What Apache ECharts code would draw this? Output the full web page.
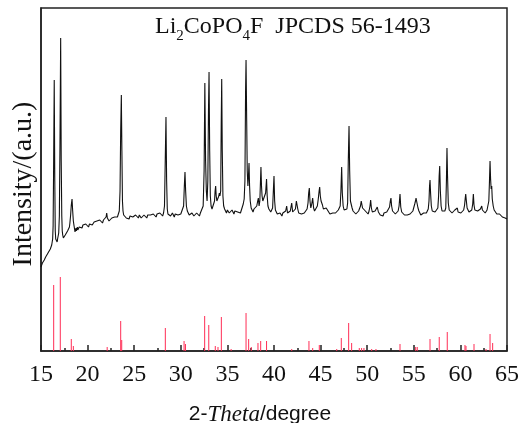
<!DOCTYPE html>
<html>
<head>
<meta charset="utf-8">
<script src="https://cdn.jsdelivr.net/npm/echarts@6/dist/echarts.min.js"></script>
<style>
html,body{margin:0;padding:0;background:#fff;}
#chart{width:521px;height:423px;}
</style>
</head>
<body>
<div id="chart"></div>
<script>
// Measured XRD pattern: [2-theta (deg), intensity (a.u.)]
const experimentalPattern = [
[15.00,84],[15.05,86],[15.10,85],[15.15,88],[15.20,87],[15.25,90],[15.30,89],[15.35,91],[15.40,92],[15.45,91],
[15.50,94],[15.55,93],[15.60,95],[15.65,96],[15.70,95],[15.75,98],[15.80,97],[15.85,99],[15.90,100],[15.95,99],
[16.00,102],[16.05,101],[16.10,104],[16.15,106],[16.20,108],[16.25,112],[16.30,125],[16.35,180],[16.42,271],[16.48,170],
[16.53,120],[16.58,112],[16.63,110],[16.68,111],[16.73,109],[16.78,112],[16.83,114],[16.90,118],[16.97,135],[17.03,200],
[17.11,313],[17.17,190],[17.23,135],[17.28,120],[17.33,116],[17.40,113],[17.45,115],[17.50,112],[17.55,114],[17.60,116],
[17.65,115],[17.70,117],[17.75,116],[17.80,118],[17.85,120],[17.90,119],[17.95,121],[18.00,122],[18.05,124],[18.10,128],
[18.18,136],[18.25,146],[18.33,152],[18.40,140],[18.47,130],[18.55,125],[18.60,122],[18.65,119],[18.70,121],[18.75,123],
[18.80,120],[18.85,122],[18.90,124],[18.95,121],[19.00,123],[19.10,124],[19.20,122],[19.30,125],[19.40,123],[19.50,126],
[19.60,124],[19.70,125],[19.80,127],[19.90,125],[20.00,126],[20.10,124],[20.20,127],[20.30,126],[20.40,128],[20.50,126],
[20.60,127],[20.70,129],[20.80,127],[20.90,128],[21.00,130],[21.10,128],[21.20,129],[21.30,131],[21.40,129],[21.50,130],
[21.60,128],[21.70,131],[21.80,130],[21.90,132],[21.98,134],[22.05,138],[22.12,133],[22.20,131],[22.30,130],[22.40,132],
[22.50,131],[22.60,133],[22.70,131],[22.80,132],[22.90,134],[23.00,133],[23.10,135],[23.20,134],[23.30,136],[23.40,140],
[23.48,160],[23.55,220],[23.62,256],[23.68,200],[23.74,150],[23.80,140],[23.87,136],[23.95,134],[24.05,136],[24.15,133],
[24.25,135],[24.35,134],[24.45,132],[24.55,135],[24.65,133],[24.75,136],[24.85,134],[24.95,135],[25.05,133],[25.15,136],
[25.25,134],[25.35,135],[25.45,133],[25.55,136],[25.65,134],[25.75,133],[25.85,135],[25.95,134],[26.05,136],[26.15,134],
[26.25,135],[26.35,133],[26.45,136],[26.55,134],[26.65,135],[26.75,136],[26.85,134],[26.95,135],[27.05,137],[27.15,135],
[27.25,136],[27.35,134],[27.45,137],[27.55,135],[27.65,136],[27.75,138],[27.85,136],[27.95,137],[28.05,135],[28.15,138],
[28.25,145],[28.33,190],[28.41,234],[28.48,170],[28.55,142],[28.62,137],[28.70,135],[28.80,137],[28.90,135],[29.00,136],
[29.10,138],[29.20,136],[29.30,134],[29.40,137],[29.50,135],[29.60,137],[29.70,136],[29.80,138],[29.90,136],[30.00,137],
[30.10,139],[30.20,138],[30.30,145],[30.38,165],[30.45,179],[30.52,160],[30.60,145],[30.70,140],[30.80,138],[30.90,136],
[31.00,137],[31.10,135],[31.20,138],[31.30,136],[31.40,135],[31.50,137],[31.60,136],[31.70,138],[31.80,136],[31.90,137],
[32.00,135],[32.10,138],[32.20,137],[32.30,140],[32.40,145],[32.50,180],[32.58,268],[32.66,190],[32.74,160],[32.82,150],
[32.90,170],[32.97,240],[33.03,279],[33.10,200],[33.17,155],[33.25,145],[33.35,142],[33.45,140],[33.55,144],[33.62,150],
[33.68,160],[33.74,165],[33.80,155],[33.87,150],[33.95,148],[34.02,150],[34.08,155],[34.13,158],[34.20,155],[34.28,160],
[34.34,230],[34.39,272],[34.45,200],[34.52,155],[34.60,145],[34.70,142],[34.80,140],[34.90,138],[35.00,141],[35.10,139],
[35.20,138],[35.30,140],[35.40,138],[35.50,141],[35.60,139],[35.70,137],[35.80,140],[35.90,138],[36.00,141],[36.10,139],
[36.20,137],[36.30,140],[36.40,138],[36.50,141],[36.60,144],[36.70,147],[36.80,152],[36.88,170],[36.95,260],[37.00,291],
[37.07,230],[37.13,180],[37.20,165],[37.26,175],[37.32,188],[37.38,165],[37.45,150],[37.55,143],[37.65,141],[37.75,139],
[37.85,142],[37.95,140],[38.05,142],[38.15,145],[38.25,150],[38.32,153],[38.40,145],[38.48,150],[38.55,170],[38.60,184],
[38.66,165],[38.72,155],[38.80,150],[38.90,148],[39.00,150],[39.10,158],[39.20,172],[39.27,155],[39.35,145],[39.45,142],
[39.55,140],[39.65,139],[39.75,141],[39.85,143],[39.93,160],[40.00,175],[40.07,150],[40.15,141],[40.25,139],[40.35,137],
[40.45,139],[40.55,136],[40.65,138],[40.75,137],[40.85,135],[40.95,138],[41.05,136],[41.15,139],[41.25,140],[41.36,145],
[41.45,138],[41.55,136],[41.65,138],[41.75,140],[41.90,148],[42.00,139],[42.10,137],[42.20,139],[42.30,142],[42.40,150],
[42.47,152],[42.55,142],[42.65,138],[42.75,136],[42.85,138],[42.95,137],[43.05,139],[43.15,136],[43.25,138],[43.35,140],
[43.45,139],[43.55,142],[43.65,148],[43.72,158],[43.79,163],[43.86,150],[43.95,143],[44.05,147],[44.15,153],[44.25,143],
[44.35,140],[44.45,142],[44.55,141],[44.65,145],[44.75,152],[44.84,160],[44.90,164],[44.97,155],[45.05,150],[45.12,152],
[45.20,146],[45.30,142],[45.40,140],[45.50,141],[45.60,143],[45.70,145],[45.80,140],[45.90,138],[46.00,137],[46.10,139],
[46.20,136],[46.30,138],[46.40,137],[46.50,139],[46.60,138],[46.70,140],[46.80,139],[46.90,141],[47.00,142],[47.10,145],
[47.18,160],[47.26,184],[47.33,158],[47.42,145],[47.52,141],[47.62,139],[47.72,140],[47.82,142],[47.90,148],[47.97,190],
[48.05,225],[48.12,180],[48.20,150],[48.30,151],[48.38,143],[48.48,140],[48.58,138],[48.68,139],[48.78,137],[48.88,139],
[48.98,138],[49.08,140],[49.18,142],[49.28,145],[49.36,150],[49.42,152],[49.50,143],[49.60,142],[49.70,145],[49.80,140],
[49.90,138],[50.00,139],[50.10,137],[50.20,140],[50.30,145],[50.37,151],[50.45,143],[50.55,139],[50.65,137],[50.75,138],
[50.85,140],[50.95,142],[51.08,144],[51.20,139],[51.30,137],[51.40,136],[51.50,138],[51.60,137],[51.70,135],[51.80,138],
[51.90,136],[52.00,137],[52.10,139],[52.20,138],[52.30,140],[52.40,144],[52.48,150],[52.55,153],[52.62,145],[52.72,140],
[52.82,138],[52.92,140],[53.02,137],[53.12,139],[53.22,138],[53.32,140],[53.42,145],[53.52,157],[53.60,144],[53.70,139],
[53.80,137],[53.90,138],[54.00,136],[54.10,138],[54.20,137],[54.30,136],[54.40,138],[54.50,135],[54.60,137],[54.70,136],
[54.80,138],[54.90,140],[55.00,142],[55.10,147],[55.18,150],[55.24,153],[55.30,150],[55.37,148],[55.45,143],[55.55,140],
[55.65,138],[55.75,136],[55.85,135],[55.95,137],[56.05,138],[56.15,137],[56.25,139],[56.35,138],[56.45,140],[56.55,142],
[56.63,150],[56.69,165],[56.74,171],[56.80,158],[56.88,145],[56.98,140],[57.08,138],[57.18,140],[57.28,139],[57.38,141],
[57.48,140],[57.58,143],[57.66,155],[57.72,175],[57.78,185],[57.85,160],[57.93,145],[58.03,140],[58.13,139],[58.23,141],
[58.33,140],[58.43,143],[58.50,170],[58.56,203],[58.62,175],[58.70,148],[58.80,141],[58.90,139],[59.00,140],[59.10,138],
[59.20,140],[59.30,139],[59.40,141],[59.50,140],[59.60,142],[59.67,143],[59.75,139],[59.85,137],[59.95,139],[60.05,138],
[60.15,140],[60.25,139],[60.35,141],[60.45,146],[60.52,153],[60.57,157],[60.64,150],[60.72,143],[60.82,141],[60.92,139],
[61.02,140],[61.12,138],[61.22,141],[61.32,147],[61.39,157],[61.46,146],[61.55,141],[61.65,139],[61.75,141],[61.85,140],
[61.95,142],[62.05,140],[62.15,142],[62.22,144],[62.29,145],[62.36,141],[62.46,139],[62.56,140],[62.66,138],[62.76,140],
[62.86,141],[62.96,143],[63.05,150],[63.12,170],[63.18,190],[63.24,172],[63.30,162],[63.36,165],[63.42,152],[63.52,145],
[63.62,141],[63.70,143],[63.80,139],[63.90,137],[64.00,138],[64.10,136],[64.20,137],[64.30,135],[64.40,136],[64.50,134],
[64.60,135],[64.70,133],[64.80,133],[64.90,132],[65.00,132]
];

// Reference lines, JCPDS 56-1493: [2-theta (deg), relative height]
const referenceLines = [
[16.36,66],[17.07,74],[18.25,12],[18.47,5],[22.10,4],[23.55,30],[23.66,11],[28.34,23],[30.35,10],[30.50,7],
[32.56,35],[33.00,26],[33.70,5],[33.99,4],[34.35,34],[35.40,2],[37.00,38],[37.28,12],[37.56,4],[38.28,8],
[38.57,10],[39.20,10],[41.90,2],[43.75,10],[44.15,3],[44.86,6],[46.73,2],[47.22,13],[48.01,28],[48.33,8],
[49.15,3],[49.40,3],[49.65,3],[50.48,2],[50.94,2],[53.52,7],[55.20,4],[55.37,4],[56.74,12],[57.73,14],
[58.59,19],[60.49,6],[60.60,5],[61.46,7],[62.75,2],[63.18,17],[63.46,8]
];

const xMin = 15, xMax = 65, xStep = 5;
const yMin = 0, yMax = 343;

const chart = echarts.init(document.getElementById('chart'), null, {renderer: 'canvas'});
const serif = '"Liberation Serif", "Times New Roman", serif';
const sans = '"Liberation Sans", Arial, sans-serif';

chart.setOption({
  animation: false,
  backgroundColor: '#fff',
  title: {
    text: '{a|Li}{s|2}{a|CoPO}{s|4}{a|F  JPCDS 56-1493}',
    left: 150, top: 10,
    textStyle: {
      fontWeight: 'normal',
      rich: {
        a: {fontFamily: serif, fontSize: 24, fontWeight: 'normal', color: '#111', lineHeight: 26, verticalAlign: 'top'},
        s: {fontFamily: serif, fontSize: 15, fontWeight: 'normal', color: '#111', lineHeight: 20, verticalAlign: 'top', padding: [14, 0, 0, 0]}
      }
    }
  },
  grid: {left: 41, right: 14, top: 8, bottom: 72, show: true, borderColor: '#222', borderWidth: 1.5,
         backgroundColor: 'transparent', containLabel: false, outerBoundsMode: 'none'},
  graphic: [{
    type: 'text', x: 24, y: 184, rotation: Math.PI / 2,
    style: {text: 'Intensity/(a.u.)', font: '28px ' + serif, fill: '#111', align: 'center', verticalAlign: 'middle'}
  }],
  xAxis: {
    type: 'value', min: xMin, max: xMax, interval: xStep,
    name: '{a|2-}{b|Theta}{a|/degree}',
    nameLocation: 'middle', nameGap: 52,
    nameTextStyle: {
      padding: [0, 28, 0, 0],
      rich: {
        a: {fontFamily: sans, fontSize: 21, color: '#111'},
        b: {fontFamily: serif, fontStyle: 'italic', fontSize: 23, color: '#111'}
      }
    },
    axisLine: {show: true, lineStyle: {color: '#222', width: 1.5}},
    axisTick: {show: true, inside: true, length: 6, lineStyle: {color: '#222', width: 1.5}},
    minorTick: {show: true, splitNumber: 2, length: 3, lineStyle: {color: '#222', width: 1.5}},
    axisLabel: {fontFamily: serif, fontSize: 24, color: '#111', margin: 12},
    splitLine: {show: false}
  },
  yAxis: {
    type: 'value', min: yMin, max: yMax,
    axisLine: {show: true, lineStyle: {color: '#222', width: 1.5}},
    axisTick: {show: false}, axisLabel: {show: false}, splitLine: {show: false}
  },
  series: [
    {
      type: 'line', data: experimentalPattern, showSymbol: false, symbol: 'none',
      lineStyle: {color: '#111', width: 1.1}, z: 3
    },
    {
      type: 'bar', data: referenceLines, barWidth: 1, z: 2,
      itemStyle: {color: '#ff2d55'}
    }
  ]
});
</script>
</body>
</html>
